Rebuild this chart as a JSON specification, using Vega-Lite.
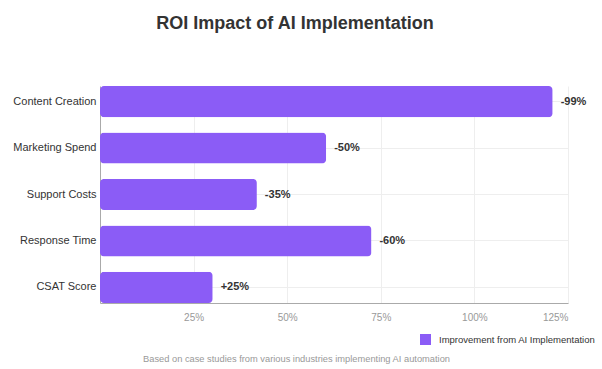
{
  "$schema": "https://vega.github.io/schema/vega-lite/v6.json",
  "width": 468,
  "height": 217,
  "autosize": {"type": "none"},
  "padding": {"left": 100, "top": 86, "right": 34, "bottom": 66},
  "background": "white",
  "config": {
    "font": "Liberation Sans",
    "view": {"stroke": null}
  },
  "title": {
    "text": "ROI Impact of AI Implementation",
    "fontSize": 18,
    "fontWeight": "bold",
    "color": "#333333",
    "anchor": "middle",
    "dx": -39,
    "offset": 53
  },
  "data": {
    "values": [
      {"metric": "Content Creation", "value": 120.9, "label": "-99%", "series": "Improvement from AI Implementation"},
      {"metric": "Marketing Spend", "value": 60.4, "label": "-50%", "series": "Improvement from AI Implementation"},
      {"metric": "Support Costs", "value": 41.9, "label": "-35%", "series": "Improvement from AI Implementation"},
      {"metric": "Response Time", "value": 72.5, "label": "-60%", "series": "Improvement from AI Implementation"},
      {"metric": "CSAT Score", "value": 30.1, "label": "+25%", "series": "Improvement from AI Implementation"}
    ]
  },
  "encoding": {
    "y": {
      "field": "metric",
      "type": "nominal",
      "sort": null,
      "scale": {"paddingInner": 0.33, "paddingOuter": 0},
      "axis": {
        "title": null,
        "ticks": false,
        "labelFontSize": 11,
        "labelColor": "#333333",
        "labelPadding": 4,
        "domainColor": "#aaaaaa",
        "grid": true,
        "gridColor": "#eeeeee"
      }
    },
    "x": {
      "field": "value",
      "type": "quantitative",
      "scale": {"domain": [0, 125], "nice": false},
      "axis": {
        "values": [25, 50, 75, 100, 125],
        "labelExpr": "datum.value + '%'",
        "ticks": false,
        "labelPadding": 9,
        "labelFontSize": 10,
        "labelColor": "#999999",
        "domainColor": "#aaaaaa",
        "gridColor": "#eeeeee",
        "title": "Based on case studies from various industries implementing AI automation",
        "titleFontSize": 9.3,
        "titleFontWeight": "normal",
        "titleColor": "#999999",
        "titleX": 196,
        "titleY": 55,
        "titleAlign": "center",
        "titleBaseline": "middle"
      }
    }
  },
  "layer": [
    {
      "mark": {"type": "bar", "cornerRadius": 4},
      "encoding": {
        "color": {
          "field": "series",
          "type": "nominal",
          "scale": {"range": ["#8B5CF6"]},
          "legend": {
            "title": null,
            "orient": "none",
            "legendX": 320,
            "legendY": 248,
            "symbolType": "square",
            "symbolSize": 121,
            "symbolStrokeWidth": 0,
            "symbolOpacity": 1,
            "labelFontSize": 9.5,
            "labelColor": "#333333",
            "labelOffset": 8,
            "labelLimit": 0
          }
        }
      }
    },
    {
      "mark": {"type": "text", "align": "left", "baseline": "middle", "dx": 8, "fontSize": 11, "fontWeight": "bold", "color": "#333333"},
      "encoding": {"text": {"field": "label"}}
    }
  ]
}
